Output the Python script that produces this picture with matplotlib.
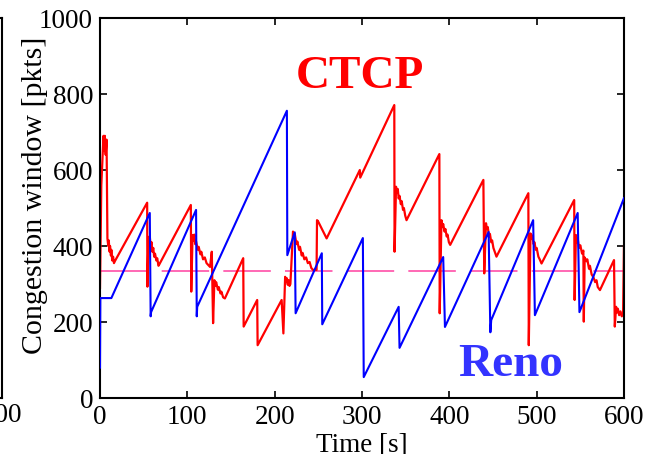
import matplotlib
matplotlib.use("Agg")
import matplotlib.pyplot as plt

plt.rcParams['font.family'] = ['Liberation Serif', 'DejaVu Serif']

# CTCP congestion window (red)
ctcp_t = [0, 1.5, 3, 4, 5, 5.5, 6.5, 7.5, 8.5, 9.5, 10, 11, 11.5, 12.5, 13, 14, 15, 16, 17,
          54, 54.3, 55.5, 56.5, 57, 58, 59, 60, 61, 62, 63, 64.5, 65.5, 67, 68,
          104, 104.5, 106, 107, 108, 109, 110, 112, 113, 115, 116, 118, 120, 122, 124, 126, 128,
          129.5, 131, 132, 133, 135, 136, 138, 139, 141, 143,
          164, 164.5, 180, 180.5, 208, 210, 212, 213, 214, 215, 216, 217, 218,
          221, 222, 223, 225, 226, 228, 229, 231, 232, 234, 236, 238, 240, 242, 244, 248,
          248.5, 249.5, 259.5, 297.5, 298, 337, 337.3, 339, 340, 341, 342, 343, 344.5, 345.5,
          347, 348, 349.5, 351,
          388.6, 389, 391, 392, 393, 394.5, 395.5, 397, 398, 399.5, 401,
          439, 440, 442, 443, 444, 445.5, 446.5, 448, 449, 450.5, 452, 454,
          490.5, 491, 493, 494, 495, 496.5, 497.5, 499, 500, 502, 503.5, 505.6,
          543, 543.5, 545, 546, 547, 548.5, 550, 552, 553.5, 554, 555, 557, 558, 560, 561,
          563, 565, 567, 568.5, 570, 572.5,
          588.6, 589.5, 591, 592, 593, 594.5, 596, 597.5, 599, 600]
ctcp_w = [290, 560, 640, 690, 650, 690, 640, 680, 420, 400, 415, 385, 400, 375, 390, 362, 372, 355, 360,
          514, 293, 424, 410, 425, 400, 410, 385, 395, 372, 380, 362, 368, 348, 352,
          508, 280, 429, 415, 430, 405, 412, 390, 398, 378, 385, 365, 370, 355, 350, 345, 385,
          197, 310, 295, 305, 285, 292, 275, 280, 265, 262,
          368, 188, 258, 139, 258, 170, 319, 305, 315, 298, 310, 295, 300,
          438, 425, 432, 405, 412, 390, 398, 375, 382, 365, 370, 355, 358, 342, 337, 337,
          468, 466, 420, 600, 580, 771, 385, 556, 540, 550, 525, 532, 510, 518,
          495, 500, 480, 468,
          642, 223, 468, 450, 458, 438, 445, 425, 430, 410, 403,
          574, 328, 460, 445, 450, 425, 432, 410, 415, 395, 385, 372,
          539, 139, 433, 420, 428, 405, 410, 390, 395, 372, 365, 354,
          521, 258, 429, 410, 420, 395, 402, 380, 388, 201, 370, 360, 365, 340, 348,
          325, 318, 305, 310, 292, 284,
          363, 188, 240, 225, 235, 218, 228, 215, 222, 400]

# Reno congestion window (blue)
reno_t = [0, 0.4, 13, 57, 58, 58.5, 110, 110.8, 111.3, 214, 214.5, 223, 224, 254, 254.5,
          301, 302, 342, 343, 393, 395, 445, 447, 448, 496, 498, 547, 549, 600]
reno_w = [80, 263, 263, 487, 215, 226, 495, 215, 240, 756, 376, 436, 223, 381, 194,
          421, 55, 240, 132, 371, 187, 437, 173, 205, 468, 218, 487, 226, 526]

# reference level (magenta dashed)
ref_t = [0, 600]
ref_w = [334, 334]

xticks = [0, 100, 200, 300, 400, 500, 600]
yticks = [0, 200, 400, 600, 800, 1000]

fig = plt.figure(figsize=(6.46, 4.54), dpi=100)

# partially visible neighbouring subplot on the left
axl = fig.add_axes([-0.5, 0.1233, 0.5035, 0.837])
axl.set_xlim(0, 600)
axl.set_ylim(0, 1000)
axl.set_xticks([600])
axl.set_yticks([])
axl.tick_params(direction='in', labelsize=19.5, length=5, width=1.2)
for s in axl.spines.values():
    s.set_linewidth(1.5)

ax = fig.add_axes([0.1548, 0.1233, 0.8111, 0.837])
ax.plot(ref_t, ref_w, color='#ff4fa8', linewidth=1.2, dashes=(28.5, 8.5), zorder=1)
ax.plot(ctcp_t, ctcp_w, color='#ff0000', linewidth=1.6, zorder=2)
ax.plot(reno_t, reno_w, color='#0000ff', linewidth=1.5, zorder=3)

ax.set_xlim(0, 600)
ax.set_ylim(0, 1000)
ax.set_xticks(xticks)
ax.set_yticks(yticks)
ax.tick_params(direction='in', labelsize=19.5, length=5, width=1.2,
               top=True, right=True, pad=5)
for s in ax.spines.values():
    s.set_linewidth(1.5)

ax.set_xlabel('Time [s]', fontsize=19.5, labelpad=2)
ax.set_ylabel('Congestion window [pkts]', fontsize=21.5)
ax.yaxis.set_label_coords(-0.10, 0.534)

ax.text(298, 845, 'CTCP', color='#ff0000', fontsize=34, fontweight='bold',
        ha='center', va='center')
ax.text(470, 87, 'Reno', color='#3333ff', fontsize=34, fontweight='bold',
        ha='center', va='center')

fig.savefig('out.png', dpi=100)
